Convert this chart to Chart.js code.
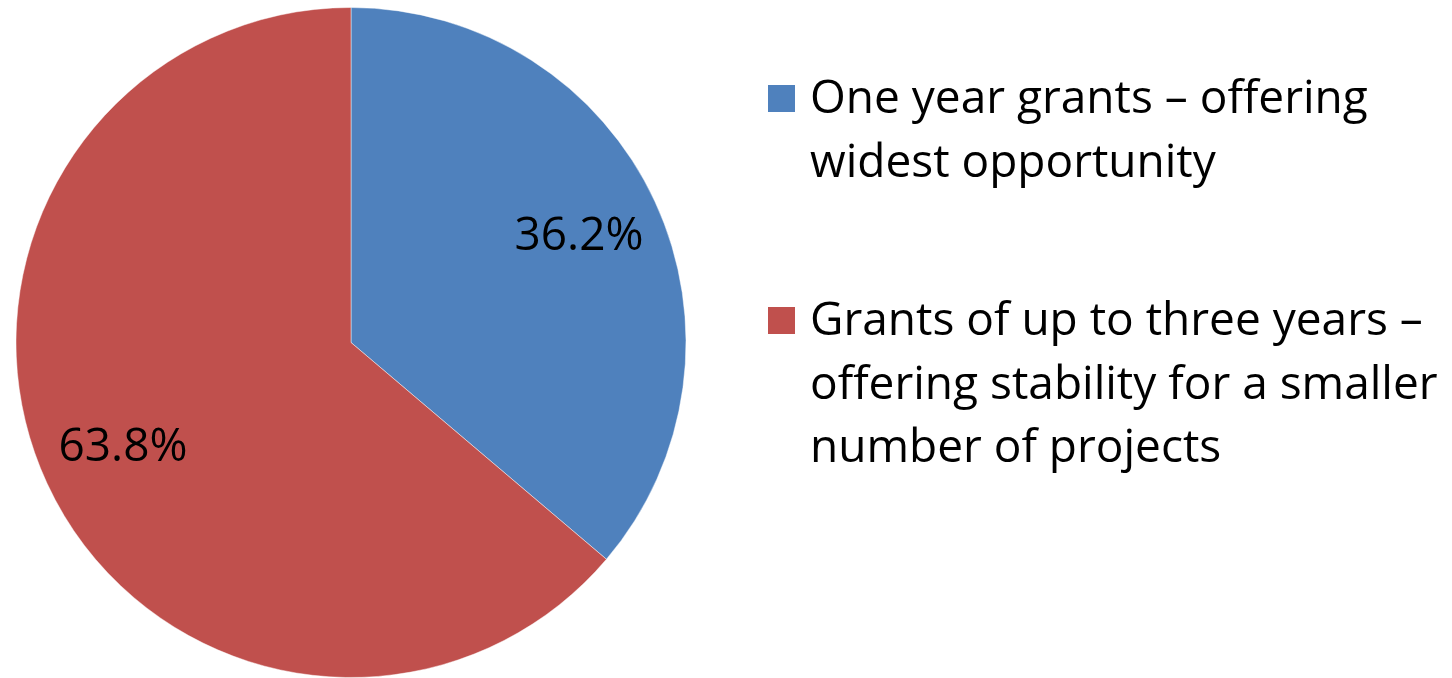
<!DOCTYPE html>
<html>
<head>
<meta charset="utf-8">
<script src="https://cdn.jsdelivr.net/npm/chart.js@4/dist/chart.umd.min.js"></script>
<style>
  html, body { margin: 0; padding: 0; background: #fff; }
  #wrap { width: 1452px; height: 678px; position: relative; }
</style>
</head>
<body>
<div id="wrap"><canvas id="chart" width="1452" height="678"></canvas></div>
<script>
// datos del gráfico
const categorias = [
  ["One year grants \u2013 offering", "widest opportunity"],
  ["Grants of up to three years \u2013", "offering stability for a smaller", "number of projects"]
];
const valores = [36.2, 63.8];
const colores = ['#4F81BD', '#C0504D'];

const FONT = '"Open Sans", "Liberation Sans", sans-serif';

// etiquetas de porcentaje dentro de cada porción
const etiquetasPlugin = {
  id: 'etiquetas',
  afterDatasetsDraw(chart) {
    const { ctx } = chart;
    const meta = chart.getDatasetMeta(0);
    const total = valores.reduce((a, b) => a + b, 0);
    ctx.save();
    ctx.font = `46px ${FONT}`;
    ctx.fillStyle = '#000';
    ctx.textAlign = 'center';
    ctx.textBaseline = 'middle';
    meta.data.forEach((arc, i) => {
      const { x, y, startAngle, endAngle, outerRadius } = arc.getProps(['x', 'y', 'startAngle', 'endAngle', 'outerRadius'], true);
      const mid = (startAngle + endAngle) / 2;
      const r = outerRadius * 0.75;
      const pct = (valores[i] / total * 100).toFixed(1) + '%';
      ctx.fillText(pct, x + Math.cos(mid) * r, y + Math.sin(mid) * r);
    });
    ctx.restore();
  }
};

// leyenda a la derecha, con texto en varias líneas
const leyendaPlugin = {
  id: 'leyenda',
  afterDraw(chart) {
    const { ctx } = chart;
    const lineH = 63.5;
    const starts = [113, 335];
    ctx.save();
    ctx.font = `46px ${FONT}`;
    ctx.textBaseline = 'alphabetic';
    ctx.textAlign = 'left';
    categorias.forEach((lineas, i) => {
      const base = starts[i];
      ctx.fillStyle = colores[i];
      ctx.fillRect(768, base - 28, 27, 27);
      ctx.fillStyle = '#000';
      lineas.forEach((t, j) => ctx.fillText(t, 810, base + j * lineH));
    });
    ctx.restore();
  }
};

new Chart(document.getElementById('chart'), {
  type: 'pie',
  data: {
    labels: categorias.map(l => l.join(' ')),
    datasets: [{
      data: valores,
      backgroundColor: colores,
      borderColor: 'rgba(255,255,255,0.45)',
      borderWidth: 1
    }]
  },
  plugins: [etiquetasPlugin, leyendaPlugin],
  options: {
    responsive: false,
    animation: false,
    layout: { padding: { left: 13, right: 763, top: 7, bottom: -5 } },
    plugins: {
      legend: { display: false },
      tooltip: { enabled: false }
    }
  }
});
</script>
</body>
</html>
